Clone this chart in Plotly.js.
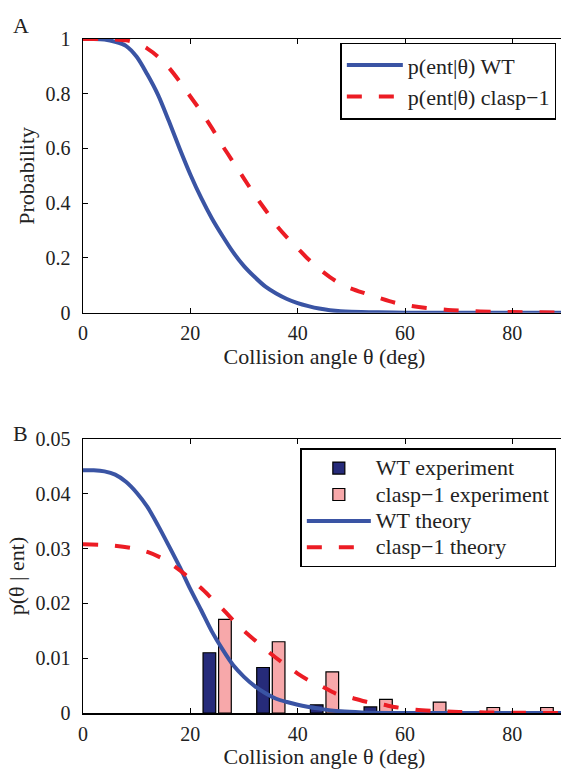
<!DOCTYPE html>
<html>
<head>
<meta charset="utf-8">
<script src="https://cdn.plot.ly/plotly-3.0.1.min.js"></script>
<style>
html,body{margin:0;padding:0;overflow:hidden;background:#fff;}
#chart{width:570px;height:770px;}
</style>
</head>
<body>
<div id="chart"></div>
<script>
// Panel A: p(ent|theta)
const thetaA_wt = [0,2,4,6,8,10,12,14,16,18,20,22,24,26,28,30,32,34,36,38,40,42,44,46,48,50,55,60,70,80,90];
const pA_wt = [1,1,0.998,0.99,0.975,0.935,0.87,0.795,0.70,0.60,0.505,0.42,0.345,0.28,0.22,0.17,0.13,0.095,0.07,0.05,0.035,0.024,0.015,0.009,0.005,0.003,0.001,0,0,0,0];
const thetaA_cl = [0,4,8,10,12,14,16,18,20,22,24,26,28,30,32,34,36,38,40,42,44,46,48,50,52,55,58,61,64,68,72,76,80,85,90];
const pA_cl = [1,1,0.995,0.985,0.965,0.935,0.895,0.845,0.79,0.735,0.675,0.61,0.55,0.49,0.43,0.375,0.32,0.275,0.235,0.195,0.16,0.13,0.105,0.088,0.074,0.055,0.037,0.025,0.017,0.01,0.006,0.003,0.002,0.001,0];

// Panel B: p(theta | ent)
const binCenters = [25,35,45,55,65,75,85];
const wtExp = [0.011,0.0083,0.0015,0.0011,0,0,0];
const claspExp = [0.0171,0.013,0.0075,0.0025,0.002,0.001,0.001];
const thetaB_wt = [0,2,4,6,8,10,12,14,16,18,20,22,24,26,28,30,32,34,36,38,40,44,48,52,60,90];
const pB_wt = [0.0443,0.0443,0.0441,0.0435,0.0422,0.0402,0.0376,0.0342,0.0305,0.0267,0.0226,0.0188,0.0149,0.0116,0.0087,0.0066,0.0049,0.0036,0.0026,0.002,0.0015,0.0008,0.0003,0.0001,0,0];
const thetaB_cl = [0,5,9,12,15,17,19,22,24,26,28,30,32,35,37,40,42,45,47,50,53,56,58,62,65,70,75,80,90];
const pB_cl = [0.0308,0.0306,0.0301,0.0294,0.0281,0.0268,0.0253,0.0228,0.0209,0.019,0.0169,0.015,0.0133,0.0108,0.0093,0.0072,0.006,0.0046,0.0036,0.0028,0.002,0.0015,0.0011,0.0006,0.0004,0.0002,0.0001,0.00005,0];

const xTickVals = [0,20,40,60,80];
const BLUE = '#3a54a4', RED = '#ec1c24', NAVY = '#262b7a', PINK = '#f7a8aa';
const FONT = 'Liberation Serif';
const big = s => '<span style="font-size:22px">' + s + '</span>';

const traces = [
  {x: thetaA_wt, y: pA_wt, type:'scatter', mode:'lines', name:'p(ent|θ) WT',
   line:{color:BLUE, width:4, shape:'spline', smoothing:0.8}, xaxis:'x', yaxis:'y', legend:'legend'},
  {x: thetaA_cl, y: pA_cl, type:'scatter', mode:'lines', name:'p(ent|θ) clasp−1',
   line:{color:RED, width:4, dash:'15px,17px', shape:'spline', smoothing:0.8}, xaxis:'x', yaxis:'y', legend:'legend'},
  {x: binCenters, y: wtExp, type:'bar', name:big('WT experiment'),
   marker:{color:NAVY, line:{color:'#000', width:1.2}}, xaxis:'x2', yaxis:'y2', legend:'legend2'},
  {x: binCenters, y: claspExp, type:'bar', name:big('clasp−1 experiment'),
   marker:{color:PINK, line:{color:'#000', width:1.2}}, xaxis:'x2', yaxis:'y2', legend:'legend2'},
  {x: thetaB_wt, y: pB_wt, type:'scatter', mode:'lines', name:big('WT theory'),
   line:{color:BLUE, width:4, shape:'spline', smoothing:0.8}, xaxis:'x2', yaxis:'y2', legend:'legend2'},
  {x: thetaB_cl, y: pB_cl, type:'scatter', mode:'lines', name:big('clasp−1 theory'),
   line:{color:RED, width:4, dash:'15px,17px', shape:'spline', smoothing:0.8}, xaxis:'x2', yaxis:'y2', legend:'legend2'}
];

const axBase = {
  showline:true, linecolor:'#000', linewidth:1.5, mirror:'ticks',
  ticks:'inside', ticklen:5, tickwidth:1, tickcolor:'#000',
  showgrid:false, zeroline:false, tickfont:{family:FONT, size:20, color:'#222'},
  ticklabelstandoff:2
};
const xTitle = {text:'Collision angle θ (deg)', font:{family:FONT, size:22, color:'#222'}, standoff:3};

const layout = {
  width:570, height:770,
  margin:{l:83.3, r:3.5, t:39.3, b:57.3},
  paper_bgcolor:'#fff', plot_bgcolor:'#fff',
  showlegend:true,
  bargap:0.42, bargroupgap:0.186, barmode:'group',
  font:{family:FONT, color:'#222'},
  xaxis: Object.assign({}, axBase, {range:[0,90], tickvals:xTickVals, domain:[0,1], anchor:'y', title:xTitle}),
  yaxis: Object.assign({}, axBase, {range:[0,1], dtick:0.2, domain:[0.594,1], anchor:'x', ticklabelstandoff:7,
    title:{text:'Probability', font:{family:FONT, size:22, color:'#222'}, standoff:5}}),
  xaxis2: Object.assign({}, axBase, {range:[0,90], tickvals:xTickVals, domain:[0,1], anchor:'y2', title:xTitle}),
  yaxis2: Object.assign({}, axBase, {range:[0,0.05], dtick:0.01, domain:[0,0.4065], anchor:'x2', ticklabelstandoff:7,
    title:{text:'p(θ | ent)', font:{family:FONT, size:22, color:'#222'}, standoff:5}}),
  legend:{x:0.98, xanchor:'right', y:0.9945, yanchor:'top', bgcolor:'#fff', bordercolor:'#000', borderwidth:1.5,
    font:{family:FONT, size:22, color:'#222'}, itemwidth:56, traceorder:'normal'},
  legend2:{x:0.98, xanchor:'right', y:0.3926, yanchor:'top', bgcolor:'#fff', bordercolor:'#000', borderwidth:1.5,
    font:{family:FONT, size:18, color:'#222'}, itemwidth:64, traceorder:'normal'},
  annotations:[
    {text:'A', xref:'paper', yref:'paper', x:-0.15, y:1.042, xanchor:'left', yanchor:'top', showarrow:false,
     font:{family:FONT, size:22, color:'#222'}},
    {text:'B', xref:'paper', yref:'paper', x:-0.15, y:0.4365, xanchor:'left', yanchor:'top', showarrow:false,
     font:{family:FONT, size:22, color:'#222'}}
  ]
};

Plotly.newPlot('chart', traces, layout, {displayModeBar:false, staticPlot:true});
</script>
</body>
</html>
